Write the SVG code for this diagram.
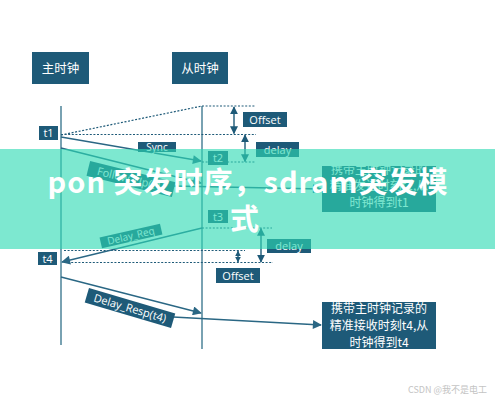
<svg xmlns="http://www.w3.org/2000/svg" width="495" height="400" viewBox="0 0 495 400">
<style>
.box{fill:#1e5a78}
.lbl{font-family:"Open Sans","Liberation Sans","Noto Sans CJK SC",sans-serif;fill:#ffffff;text-anchor:middle}
.cjk{font-family:"Noto Sans CJK SC","Noto Sans",sans-serif;fill:#ffffff;text-anchor:middle}
.life{stroke:#4d8399;stroke-width:1.5;fill:none}
.arr{stroke:#2a6784;stroke-width:1.3;fill:none}
.dot{stroke:#1e5a78;stroke-width:1.2;stroke-dasharray:2 1.6;fill:none}
.dbl{stroke:#1e5a78;stroke-width:1.4;fill:none;marker-start:url(#dh);marker-end:url(#dh)}
.ban{font-family:"Noto Sans CJK SC","Noto Sans",sans-serif;font-weight:bold;font-size:29px;fill:#ffffff;text-anchor:middle;letter-spacing:1px}
</style>
<defs>
<marker id="ah" viewBox="0 0 10 10" refX="9" refY="5" markerWidth="11" markerHeight="9" markerUnits="userSpaceOnUse" orient="auto"><path d="M0,0 L10,5 L0,10 z" fill="#2a6784"/></marker>
<marker id="dh" viewBox="0 0 10 10" refX="9" refY="5" markerWidth="8" markerHeight="9" markerUnits="userSpaceOnUse" orient="auto-start-reverse"><path d="M0,0 L10,5 L0,10 z" fill="#1e5a78"/></marker>
<marker id="dhs" viewBox="0 0 10 10" refX="9" refY="5" markerWidth="6" markerHeight="8" markerUnits="userSpaceOnUse" orient="auto-start-reverse"><path d="M0,0 L10,5 L0,10 z" fill="#1e5a78"/></marker>
</defs>
<rect width="495" height="400" fill="#ffffff"/>

<g id="master">
<rect class="box" x="32" y="52" width="57" height="32"/>
<text class="cjk" x="60.5" y="72.5" font-size="12.5">主时钟</text>
</g>
<g id="slave">
<rect class="box" x="172" y="52" width="56" height="32"/>
<text class="cjk" x="200" y="72.5" font-size="12.5">从时钟</text>
</g>

<g id="connectors">
<line class="life" x1="61" y1="106" x2="61" y2="345"/>
<line class="life" x1="202" y1="106" x2="202" y2="349"/>
<line class="dot" x1="61" y1="135" x2="202" y2="106" stroke-dasharray="3 2"/>
<line class="dot" x1="202" y1="106" x2="255" y2="106"/>
<line class="dot" x1="61" y1="134.5" x2="256" y2="134.5"/>
<line class="dot" x1="202" y1="162" x2="255" y2="162"/>
<line class="dot" x1="202" y1="228" x2="272" y2="228"/>
<line class="dot" x1="64" y1="250.5" x2="245" y2="250.5"/>
<line class="dot" x1="64" y1="262.5" x2="273" y2="262.5"/>
<line class="dbl" x1="234" y1="107" x2="234" y2="133.5"/>
<line class="dbl" x1="245" y1="135" x2="245" y2="161.5"/>
<line class="dbl" x1="261" y1="228.5" x2="261" y2="262"/>
<line class="dbl" x1="238" y1="251" x2="238" y2="262" style="marker-start:url(#dhs);marker-end:url(#dhs)"/>
<line class="arr" x1="61" y1="137" x2="201" y2="161" marker-end="url(#ah)"/>
<line class="arr" x1="61" y1="148" x2="201" y2="183" marker-end="url(#ah)"/>
<line class="arr" x1="173" y1="186" x2="321" y2="189" marker-end="url(#ah)"/>
<line class="arr" x1="202" y1="228" x2="62" y2="262" marker-end="url(#ah)"/>
<line class="arr" x1="61" y1="277" x2="201" y2="313" marker-end="url(#ah)"/>
<line class="arr" x1="173" y1="317" x2="321" y2="325" marker-end="url(#ah)"/>
</g>

<g id="t1"><rect class="box" x="39" y="126" width="19" height="14"/><text class="lbl" x="48.5" y="137" font-size="11">t1</text></g>
<g id="t2"><rect class="box" x="208" y="151" width="20" height="14"/><text class="lbl" x="218" y="162" font-size="11">t2</text></g>
<g id="t3"><rect class="box" x="208" y="210" width="20" height="13"/><text class="lbl" x="218" y="220.5" font-size="11">t3</text></g>
<g id="t4"><rect class="box" x="38" y="252" width="19" height="13"/><text class="lbl" x="47.5" y="262.5" font-size="11">t4</text></g>

<g id="offset1"><rect class="box" x="243" y="112" width="44" height="15"/><text class="lbl" x="265" y="123.5" font-size="11">Offset</text></g>
<g id="delay1"><rect class="box" x="256" y="142" width="43" height="15"/><text class="lbl" x="277.5" y="153.5" font-size="11">delay</text></g>
<g id="delay2"><rect class="box" x="267" y="239" width="44" height="14"/><text class="lbl" x="289" y="250" font-size="11">delay</text></g>
<g id="offset2"><rect class="box" x="216" y="268" width="44" height="15"/><text class="lbl" x="238" y="279.5" font-size="11">Offset</text></g>

<g id="sync"><rect class="box" x="138" y="142" width="38" height="10"/><text class="lbl" x="157" y="150.5" font-size="10">Sync</text></g>
<g id="followup" transform="translate(131,179) rotate(14)"><rect class="box" x="-44" y="-7.5" width="88" height="15"/><text class="lbl" x="0" y="4" font-size="11">Follow_Up(t1)</text></g>
<g id="delayreq" transform="translate(131,236) rotate(-13)"><rect class="box" x="-31" y="-5.5" width="62" height="11"/><text class="lbl" x="0" y="3.5" font-size="10">Delay_Req</text></g>
<g id="delayresp" transform="translate(130,308) rotate(16.5)"><rect class="box" x="-45" y="-7.5" width="90" height="15"/><text class="lbl" x="0" y="4" font-size="11">Delay_Resp(t4)</text></g>

<g id="note1"><rect class="box" x="322" y="166" width="114" height="46"/>
<text class="cjk" x="379" y="173.5" font-size="12">携带主时钟记录的</text>
<text class="cjk" x="379" y="190" font-size="12">精准发送时刻t1,从</text>
<text class="cjk" x="379" y="207" font-size="12">时钟得到t1</text></g>
<g id="note2"><rect class="box" x="322" y="302" width="114" height="47"/>
<text class="cjk" x="379" y="312.5" font-size="12">携带主时钟记录的</text>
<text class="cjk" x="379" y="329.5" font-size="12">精准接收时刻t4,从</text>
<text class="cjk" x="379" y="346.5" font-size="12">时钟得到t4</text></g>

<g id="banner">
<rect x="0" y="149" width="495" height="100" fill="#2ddab3" fill-opacity="0.62"/>
<text class="ban" x="248" y="193">pon 突发时序，sdram突发模</text>
<text class="ban" x="245" y="230">式</text>
</g>
<text x="487" y="393" font-family="'Noto Sans CJK SC','Liberation Sans',sans-serif" font-size="9" fill="#c4c4c4" text-anchor="end">CSDN @我不是电工</text>
</svg>
